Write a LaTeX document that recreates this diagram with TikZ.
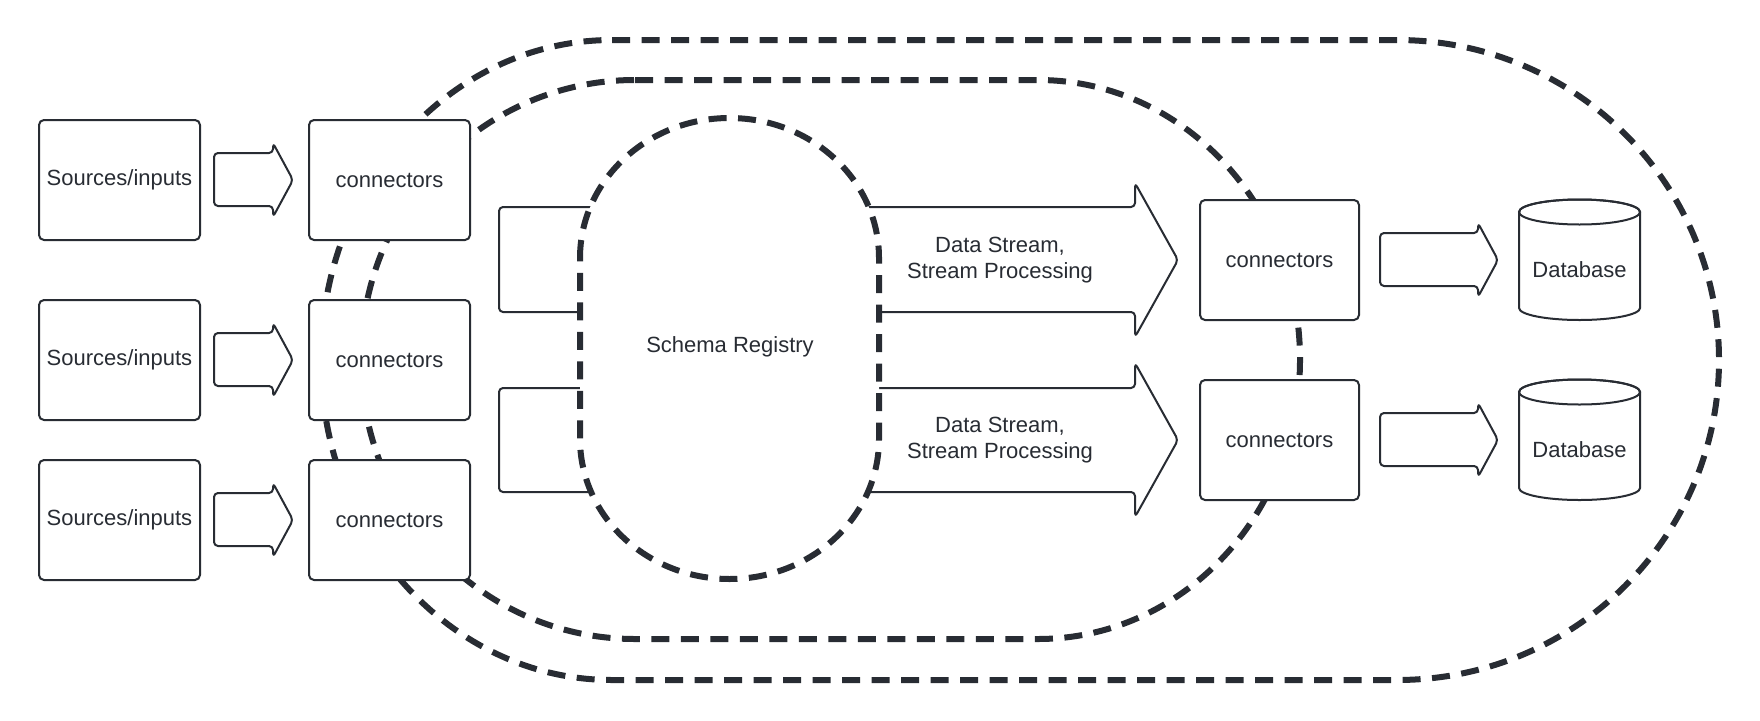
\documentclass[tikz,border=0pt]{standalone}
\usepackage{fontspec}
\setmainfont{Liberation Sans}
\definecolor{ink}{HTML}{282C33}
\tikzset{
  lbl/.style={text=ink,font=\fontsize{22}{26}\selectfont,inner sep=0pt,align=center},
  box/.style={lbl,draw=ink,line width=2pt,fill=white,rounded corners=5pt,minimum width=161pt,minimum height=120pt},
  rbox/.style={box,minimum width=159pt},
  shapeline/.style={draw=ink,line width=2pt,fill=white,rounded corners=4pt,line join=round},
  dashline/.style={draw=ink,line width=6pt,dash pattern=on 18pt off 11.5pt}
}
\begin{document}
\begin{tikzpicture}[x=1pt,y=-1pt]
\useasboundingbox (0,0) rectangle (1760,720);
% big arrows (partly hidden by the schema registry)
\draw[shapeline] (499,207) -- (1135,207) -- (1135,183) -- (1178,260) -- (1135,337) -- (1135,312) -- (499,312) -- cycle;
\draw[shapeline] (499,388) -- (1135,388) -- (1135,363) -- (1178,440) -- (1135,517) -- (1135,492) -- (499,492) -- cycle;
% dashed loops
\draw[dashline] (612,40) -- (1397,40) arc[start angle=270,end angle=450,x radius=322,y radius=320]
  -- (612,680) arc[start angle=90,end angle=270,x radius=291,y radius=320] -- cycle;
\draw[dashline] (635,80) -- (1038,80) arc[start angle=270,end angle=450,x radius=262,y radius=279.5]
  -- (635,639) arc[start angle=90,end angle=270,x radius=274,y radius=279.5] -- cycle;
% schema registry
\draw[dashline,fill=white] (580,258) arc[start angle=180,end angle=360,x radius=149.5,y radius=140]
  -- (879,439) arc[start angle=0,end angle=180,x radius=149.5,y radius=140] -- cycle;
\node[lbl] (schema) at (730,347) {Schema Registry};
\node[lbl] (ds1) at (1000,260) {Data Stream,\\Stream Processing};
\node[lbl] (ds2) at (1000,440) {Data Stream,\\Stream Processing};
% sources and connectors
\foreach \i/\y in {1/180,2/360,3/520}{
  \node[box] (src\i) at (119.5,\y) {Sources/inputs};
  \node[box] (con\i) at (389.5,\y) {connectors};
  \draw[shapeline] (214,\y-27) -- (273,\y-27) -- (273,\y-37) -- (293,\y) -- (273,\y+37) -- (273,\y+26) -- (214,\y+26) -- cycle;
}
% right connectors and databases
\foreach \i/\y in {1/260,2/440}{
  \node[rbox] (rcon\i) at (1279.5,\y) {connectors};
  \draw[shapeline] (1380,\y-27) -- (1478,\y-27) -- (1478,\y-37) -- (1498,\y) -- (1478,\y+37) -- (1478,\y+26) -- (1380,\y+26) -- cycle;
  \draw[draw=ink,line width=2pt,fill=white] (1519,\y-48) -- (1519,\y+48) arc[start angle=180,end angle=0,x radius=60.5,y radius=12]
    -- (1640,\y-48) arc[start angle=360,end angle=180,x radius=60.5,y radius=12.5] -- cycle;
  \draw[draw=ink,line width=2pt] (1579.5,\y-48) ellipse[x radius=60.5,y radius=12.5];
  \node[lbl] (db\i) at (1579.5,\y+10) {Database};
}
\end{tikzpicture}
\end{document}
